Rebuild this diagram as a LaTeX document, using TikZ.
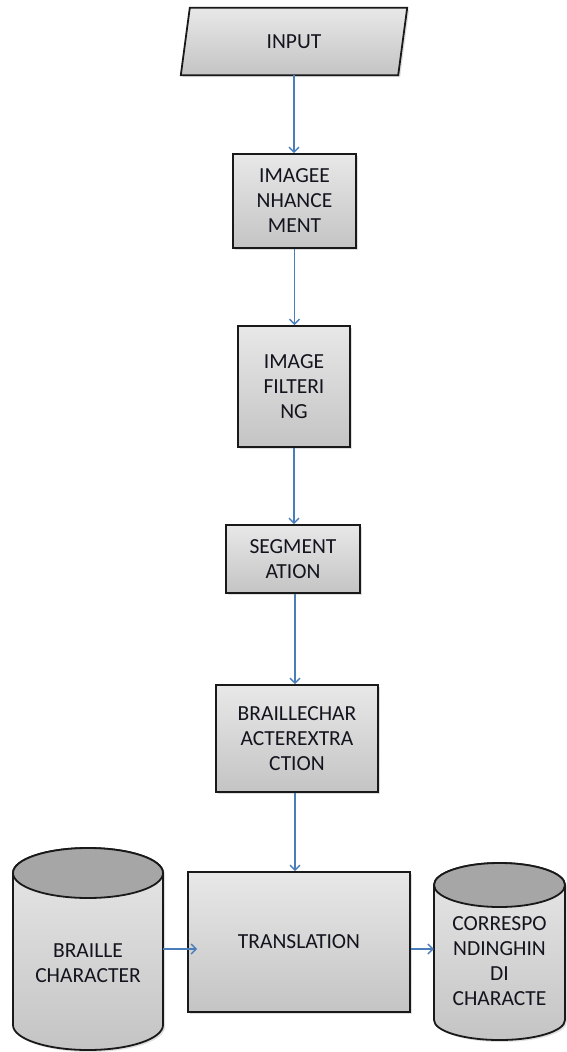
\documentclass[tikz,border=0pt]{standalone}
\usepackage{fontspec}
\setmainfont{Carlito}
\usetikzlibrary{arrows.meta,shadows,backgrounds}
\definecolor{arrowblue}{HTML}{4A7EBB}
\definecolor{boxtop}{HTML}{E8E8E8}
\definecolor{boxbot}{HTML}{C4C4C4}
\definecolor{cyltop}{HTML}{A6A6A6}
\definecolor{txt}{HTML}{14141E}
\tikzset{
  shade box/.style={top color=boxtop, bottom color=boxbot, draw=black!90, line width=1.8pt,
    drop shadow={shadow xshift=2pt, shadow yshift=-2pt, opacity=0.25}},
  stepbox/.style={shade box, rectangle, inner sep=0pt, align=center, text=txt,
    font=\fontsize{21.5}{25}\selectfont},
  lbl/.style={inner sep=0pt, align=center, text=txt, font=\fontsize{21.5}{25}\selectfont},
  flow/.style={draw=arrowblue, line width=1.4pt, -{Straight Barb[length=5pt,width=10pt,line width=1.4pt]}},
}
\begin{document}
\begin{tikzpicture}[x=1pt,y=-1pt]
\useasboundingbox (0,0) rectangle (566,1052);
% INPUT parallelogram
\node[lbl, minimum width=217, minimum height=67] (in) at (294,41.5) {INPUT};
\begin{scope}[on background layer]
\path[shade box] ([xshift=4.5pt]in.north west) -- ([xshift=4.5pt]in.north east)
  -- ([xshift=-4.5pt]in.south east) -- ([xshift=-4.5pt]in.south west) -- cycle;
\end{scope}
% process boxes
\node[stepbox, minimum width=123, minimum height=94] (enh) at (294.5,201) {IMAGEE\\NHANCE\\MENT};
\node[stepbox, minimum width=112, minimum height=121] (fil) at (294,386.5) {IMAGE\\FILTERI\\NG};
\node[stepbox, minimum width=134, minimum height=68] (seg) at (293,559) {SEGMENT\\ATION};
\node[stepbox, minimum width=162, minimum height=107] (ext) at (297,738.5) {BRAILLECHAR\\ACTEREXTRA\\CTION};
\node[stepbox, minimum width=222, minimum height=140] (tr) at (299,942) {TRANSLATION};
% left cylinder
\path[shade box] (13,873) -- (13,1025) arc[start angle=180, end angle=360, x radius=75pt, y radius=25pt]
  -- (163,873) arc[start angle=0, end angle=180, x radius=75pt, y radius=25pt] -- cycle;
\draw[fill=cyltop, draw=black!90, line width=1.8pt] (88,873) ellipse[x radius=75pt, y radius=25pt];
\node[lbl, minimum width=150, minimum height=202] (lc) at (88,949) {};
\node[lbl] (lct) at (88,963) {BRAILLE\\CHARACTER};
% right cylinder
\path[shade box] (434,885) -- (434,1020) arc[start angle=180, end angle=360, x radius=65.5pt, y radius=20pt]
  -- (565,885) arc[start angle=0, end angle=180, x radius=65.5pt, y radius=22pt] -- cycle;
\draw[fill=cyltop, draw=black!90, line width=1.8pt] (499.5,885) ellipse[x radius=65.5pt, y radius=22pt];
\node[lbl, minimum width=131, minimum height=177] (rc) at (499.5,951.5) {};
\node[lbl] (rct) at (499.5,961) {CORRESPO\\NDINGHIN\\DI\\CHARACTE};
% connectors
\draw[flow] (in.south) -- (in.south |- enh.north);
\draw[flow] (enh.south) -- (enh.south |- fil.north);
\draw[flow] (fil.south) -- (fil.south |- seg.north);
\draw[flow] ([xshift=2pt]seg.south) -- ([xshift=2pt]seg.south |- ext.north);
\draw[flow] ([xshift=-2pt]ext.south) -- ([xshift=-2pt]ext.south |- tr.north);
\draw[flow] (lc.east) -- ([xshift=10pt]lc.east -| tr.west);
\draw[flow] ([yshift=-7pt]tr.east) -- ([yshift=-7pt]tr.east -| rc.west);
\end{tikzpicture}
\end{document}
